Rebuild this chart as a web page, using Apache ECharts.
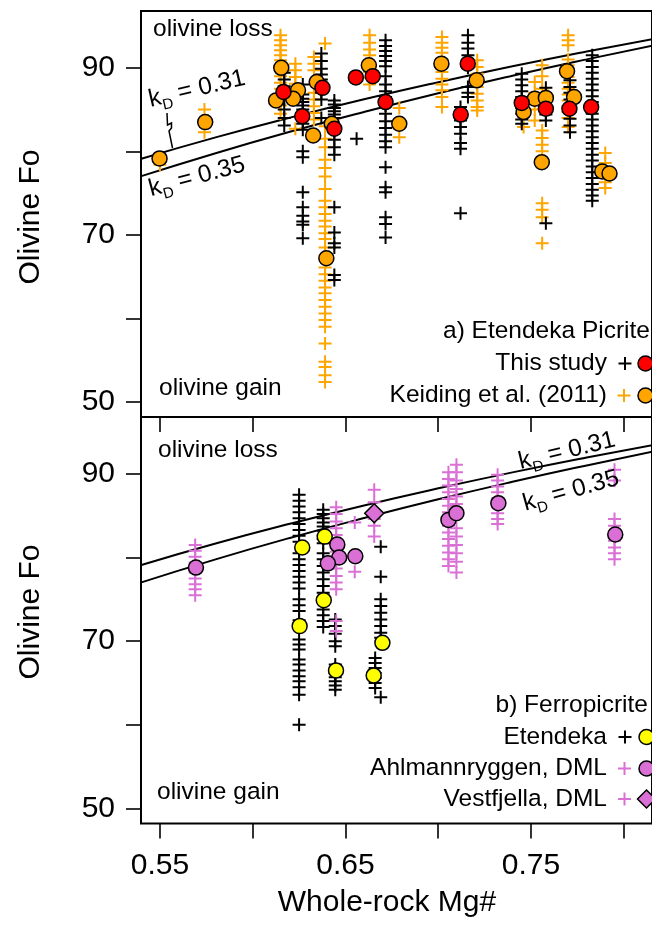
<!DOCTYPE html>
<html><head><meta charset="utf-8">
<script src="https://cdn.jsdelivr.net/npm/echarts@6/dist/echarts.min.js"></script>
<style>html,body{margin:0;padding:0;background:#fff}#c{width:652px;height:925px}</style>
</head><body><div id="c"></div>
<script>
// ---------- data ----------
// kD equilibrium curves
const kdX   = [0.54, 0.58, 0.62, 0.66, 0.70, 0.74, 0.78, 0.82];
const kd031 = [79.11, 81.67, 84.03, 86.23, 88.27, 90.18, 91.96, 93.63];
const kd035 = [77.03, 79.78, 82.34, 84.72, 86.96, 89.05, 91.01, 92.87];

// a) Etendeka Picrite — This study (black +, red circles)
const thisStudyPlusCols = [
  [0.617, [89.4, 88.6, 87.8, 86.2, 85.0, 84.0, 83.1]],
  [0.627, [88.0, 86.8, 86.3, 85.9, 85.5, 85.0, 83.3, 82.6, 80.0, 79.3, 75.1, 73.3, 72.3, 71.6, 71.2, 69.6]],
  [0.637, [91.7, 90.8, 89.9, 89.2, 88.6, 87.0, 86.2, 84.0]],
  [0.644, [86.1, 85.6, 85.2, 84.8, 84.4, 84.0, 83.0, 82.2, 81.4, 80.5, 79.6, 73.3, 70.3, 69.0, 68.5, 65.2, 64.6]],
  [0.656, [81.5]],
  [0.6716, [93.3, 92.6, 92.0, 91.4, 90.8, 90.2, 89.0, 88.0, 87.2, 86.5, 85.5, 84.5, 83.6, 82.8, 82.0, 81.2, 80.5, 78.1, 75.7, 75.1, 72.1, 71.3, 69.7]],
  [0.716, [93.9, 93.0, 92.3, 91.5, 90.8, 90.0, 87.7, 87.0, 86.5]],
  [0.712, [85.3, 84.5, 83.7, 82.9, 82.1, 81.0, 80.3, 72.6]],
  [0.745, [89.3, 88.6, 87.9, 87.2, 86.5, 85.8, 85.2, 84.5, 83.8, 83.3]],
  [0.758, [87.6, 86.8, 86.0, 85.2, 84.4, 83.7, 71.4]],
  [0.771, [88.5, 87.7, 87.0, 86.2, 85.4, 84.7, 83.9, 83.1, 82.3]],
  [0.783, [91.5, 90.8, 90.1, 89.4, 88.7, 88.0, 87.3, 86.6, 85.9, 85.2, 84.5, 83.8, 83.1, 82.4, 81.7, 81.0, 80.3, 79.6, 78.9, 78.2, 77.5, 76.8, 76.1, 75.4, 74.7, 74.1]]
];
const thisStudyMeans = [[0.6166, 87.1], [0.6267, 84.2], [0.6376, 87.6], [0.644, 82.7], [0.6556, 88.85], [0.6647, 89.0], [0.6716, 85.9], [0.7159, 90.5], [0.7121, 84.4], [0.745, 85.8], [0.758, 85.1], [0.7707, 85.1], [0.7824, 85.3]];

// a) Keiding et al. (2011) (orange + and circles)
const keidingPlusCols = [
  [0.55, [78.4]],
  [0.574, [85.0, 82.3]],
  [0.615, [93.9, 93.3, 92.7, 92.1, 91.5, 90.9, 89.0, 88.2, 87.5, 86.5, 85.5, 84.5]],
  [0.623, [90.5, 89.7, 88.9, 88.1, 87.3, 86.7, 82.7]],
  [0.633, [91.3, 90.5, 89.7, 87.0, 86.2, 85.4, 84.6, 83.8]],
  [0.639, [92.9, 83.0, 81.5, 80.5, 79.0, 78.0, 77.0, 75.5, 74.1, 73.3, 72.5, 71.7, 71.0, 70.2, 69.5, 68.5, 67.5, 66.1, 65.3, 64.5, 63.7, 63.0, 62.2, 61.4, 60.6, 59.8, 59.0, 57.0, 54.8, 54.2, 53.2, 52.4]],
  [0.663, [93.9, 93.0, 92.2, 91.5, 89.5, 88.8, 88.0]],
  [0.679, [85.2, 81.7]],
  [0.702, [93.7, 93.0, 92.4, 91.8, 91.0, 89.5, 88.7, 88.0, 87.3, 86.5, 85.3]],
  [0.721, [90.9, 90.1, 89.3, 87.7, 86.9, 86.1, 85.3, 84.9]],
  [0.746, [82.9]],
  [0.752, [88.3, 87.0, 85.0, 83.7]],
  [0.756, [90.3, 89.0, 87.5, 82.5, 81.6, 80.8, 80.0, 73.8, 73.0, 72.1, 69.0]],
  [0.770, [93.9, 93.3, 92.7, 91.0, 90.3, 89.6, 88.9, 88.2, 87.5, 86.8, 86.1, 85.4, 84.7, 84.0, 82.9]],
  [0.790, [79.8, 78.6, 76.3, 75.6]]
];
const keidingMeans = [[0.5498, 79.15], [0.5744, 83.5], [0.6154, 90.0], [0.6126, 86.1], [0.6244, 87.3], [0.6218, 86.3], [0.6326, 81.9], [0.6345, 88.3], [0.6426, 83.3], [0.6397, 67.2], [0.6626, 90.3], [0.679, 83.3], [0.7017, 90.5], [0.7207, 88.5], [0.746, 84.7], [0.752, 86.3], [0.758, 86.4], [0.7558, 78.7], [0.7694, 89.6], [0.7732, 86.5], [0.7884, 77.6], [0.7923, 77.35]];

// b) Ferropicrite — Etendeka (black +, yellow circles)
const etendekaPlusCols = [
  [0.625, [87.5, 86.8, 86.1, 85.4, 84.7, 84.0, 83.3, 82.6, 81.9, 80.5, 79.8, 79.1, 78.4, 77.7, 77.0, 76.3, 75.0, 74.3, 73.6, 72.5, 71.8, 70.2, 69.6, 69.0, 67.8, 67.2, 66.5, 65.8, 65.2, 64.5, 63.6, 60.0]],
  [0.638, [85.7, 85.2, 84.7, 84.2, 83.7, 83.2, 82.7, 82.2, 81.7, 80.5, 79.8, 79.0, 78.2, 77.4, 76.6, 75.8, 73.8, 73.1, 72.4, 71.7]],
  [0.6445, [72.6, 71.8, 70.9, 70.0, 69.4, 67.2, 66.7, 66.2, 65.7, 65.2, 64.7, 64.2]],
  [0.669, [81.3, 77.7, 75.0, 74.2, 73.4, 72.6, 71.8, 71.0, 70.4, 63.3]],
  [0.666, [68.0, 67.4, 66.8, 66.2, 65.6, 65.0, 64.4]]
];
const etendekaMeans = [[0.6267, 81.2], [0.6388, 82.5], [0.6383, 74.9], [0.6253, 71.8], [0.6449, 66.5], [0.6652, 65.9], [0.6699, 69.8]];

// b) Ahlmannryggen, DML (orchid + and circles)
const ahlPlusCols = [
  [0.569, [81.5, 80.8, 80.1, 79.4, 78.2, 77.5, 76.8, 76.2, 75.5]],
  [0.645, [86.0, 85.2, 84.3, 83.5, 82.7, 81.9, 80.7, 79.6, 78.7, 77.8, 77.0, 76.2, 72.4, 71.2]],
  [0.655, [84.2, 78.3]],
  [0.7055, [90.2, 89.4, 88.6, 87.8, 87.0, 86.2, 85.4, 83.8, 83.0, 82.2, 81.4, 80.6, 79.8, 79.0]],
  [0.7098, [91.1, 90.2, 89.2, 88.2, 87.3, 86.4, 85.6, 83.5, 82.5, 81.5, 80.5, 79.5, 78.2]],
  [0.732, [89.9, 89.2, 88.5, 87.8, 87.1, 86.0, 85.3, 84.6, 84.0]],
  [0.795, [90.5, 89.2, 84.6, 83.8, 83.0, 82.0, 81.2, 80.5, 79.8]]
];
const ahlMeans = [[0.5694, 78.8], [0.6456, 81.55], [0.6466, 80.0], [0.6405, 79.3], [0.6553, 80.15], [0.7055, 84.5], [0.7098, 85.3], [0.7324, 86.5], [0.7954, 82.75]];

// b) Vestfjella, DML (orchid + and diamond)
const vestPlusCols = [[0.6655, [88.1, 86.6, 84.6, 83.8, 82.5]]];
const vestMeans = [[0.6655, 85.3]];

// axis ticks / labels
const xTicks = [0.55, 0.60, 0.65, 0.70, 0.75, 0.80];
const xTickLabels = [0.55, 0.65, 0.75];
const yTicks = [50, 60, 70, 80, 90];
const yTickLabels = [50, 70, 90];

// ---------- rendering ----------
const FONT = 'Liberation Sans';
const ORANGE = '#FFA500', RED = '#FF0000', YELLOW = '#FFFF00', ORCHID = '#DA70D6';
const PLUS = 'path://M5.5,0h2v5.5h5.5v2h-5.5v5.5h-2v-5.5h-5.5v-2h5.5z';
const expand = cols => { const o = []; cols.forEach(([x, ys]) => ys.forEach(y => o.push([x, y]))); return o; };

const XMIN = 0.5398, XMAX = 0.8152, YMIN = 48.2, YMAX = 96.8;
const grids = [
  { left: 141, top: 11, width: 529, height: 406, show: true, borderColor: '#000', borderWidth: 2, backgroundColor: 'transparent' },
  { left: 141, top: 417, width: 529, height: 406.5, show: true, borderColor: '#000', borderWidth: 2, backgroundColor: 'transparent' }
];
function xAx(i, labels) {
  return { type: 'value', gridIndex: i, min: XMIN, max: XMAX, position: 'bottom',
    axisLine: { show: false }, splitLine: { show: false },
    axisTick: { show: true, inside: false, length: 15, customValues: xTicks, lineStyle: { color: '#000', width: 1.6 } },
    axisLabel: { show: labels, customValues: xTickLabels, fontSize: 30, fontFamily: FONT, color: '#000', margin: 27 } };
}
function yAx(i) {
  return { type: 'value', gridIndex: i, min: YMIN, max: YMAX,
    axisLine: { show: false }, splitLine: { show: false },
    axisTick: { show: true, inside: false, length: 15, customValues: yTicks, lineStyle: { color: '#000', width: 1.6 } },
    axisLabel: { show: true, customValues: yTickLabels, fontSize: 30, fontFamily: FONT, color: '#000', margin: 26 } };
}
function curve(i, ys) {
  return { type: 'line', xAxisIndex: i, yAxisIndex: i, data: kdX.map((x, k) => [x, ys[k]]), smooth: true,
    showSymbol: false, silent: true, lineStyle: { color: '#000', width: 2 }, z: 1 };
}
function plus(i, data, color) {
  return { type: 'scatter', xAxisIndex: i, yAxisIndex: i, data, symbol: PLUS, symbolSize: 13, silent: true,
    itemStyle: { color, opacity: 1 }, z: 2 };
}
function mean(i, data, color, symbol, size) {
  return { type: 'scatter', xAxisIndex: i, yAxisIndex: i, data, symbol: symbol || 'circle', symbolSize: size || 15, silent: true,
    itemStyle: { color, borderColor: '#000', borderWidth: 1.5, opacity: 1 }, z: 3 };
}

const txtStyle = (text, size, align) => ({ text, fill: '#000', fontSize: size, fontFamily: FONT, align: align || 'left', verticalAlign: 'middle' });
function txt(x, y, text, size, align, rot) {
  return { type: 'text', x, y, rotation: rot || 0, z: 100, style: txtStyle(text, size, align) };
}
function kdLabel(x, y, val, deg) {
  return { type: 'text', x, y, rotation: deg * Math.PI / 180, z: 100,
    style: { text: '{k|k}{d|D}{k| = ' + val + '}', align: 'center', verticalAlign: 'middle', fill: '#000',
      rich: { k: { fontSize: 24.5, fontFamily: FONT, lineHeight: 32, fill: '#000' },
              d: { fontSize: 15, fontFamily: FONT, lineHeight: 15, verticalAlign: 'bottom', fill: '#000' } } } };
}
function plusG(cx, cy, color) {
  return [
    { type: 'line', z: 100, shape: { x1: cx - 6.5, y1: cy, x2: cx + 6.5, y2: cy }, style: { stroke: color, lineWidth: 2 } },
    { type: 'line', z: 100, shape: { x1: cx, y1: cy - 6.5, x2: cx, y2: cy + 6.5 }, style: { stroke: color, lineWidth: 2 } }
  ];
}
const circleG = (cx, cy, fill) => ({ type: 'circle', z: 100, shape: { cx, cy, r: 7.5 }, style: { fill, stroke: '#000', lineWidth: 1.5 } });
const diamondG = (cx, cy, fill) => ({ type: 'polygon', z: 100, shape: { points: [[cx, cy - 9], [cx + 9, cy], [cx, cy + 9], [cx - 9, cy]] }, style: { fill, stroke: '#000', lineWidth: 1.5 } });

const graphic = [
  txt(31, 217, 'Olivine Fo', 30, 'center', Math.PI / 2),
  txt(31, 612, 'Olivine Fo', 30, 'center', Math.PI / 2),
  txt(387, 903, 'Whole-rock Mg#', 30, 'center'),
  txt(153, 29, 'olivine loss', 24.5),
  txt(159, 388.5, 'olivine gain', 24.5),
  txt(158, 450, 'olivine loss', 24.5),
  txt(157, 792, 'olivine gain', 24.5),
  kdLabel(197, 89, '0.31', 13),
  kdLabel(197, 177, '0.35', 15),
  kdLabel(567, 451, '0.31', 13.5),
  kdLabel(571, 491, '0.35', 15.5),
  { type: 'polyline', z: 100, shape: { points: [[167, 113], [167.5, 125], [171.5, 123], [171.5, 128], [169, 131], [172.5, 148]] }, style: { stroke: '#000', lineWidth: 1.5, fill: null } },
  txt(650, 331, 'a) Etendeka Picrite', 24.5, 'right'),
  txt(607, 363.5, 'This study', 24.5, 'right'),
  txt(607, 395.5, 'Keiding et al. (2011)', 24.5, 'right'),
  ...plusG(625, 363.5, '#000'), circleG(645.5, 363.5, RED),
  ...plusG(624, 395.5, ORANGE), circleG(645.5, 395.5, ORANGE),
  txt(648, 705, 'b) Ferropicrite', 24.5, 'right'),
  txt(607, 737, 'Etendeka', 24.5, 'right'),
  txt(607, 768.5, 'Ahlmannryggen, DML', 24.5, 'right'),
  txt(607, 799, 'Vestfjella, DML', 24.5, 'right'),
  ...plusG(625, 737, '#000'), circleG(646.5, 737, YELLOW),
  ...plusG(624.5, 768.5, ORCHID), circleG(646.5, 768.5, ORCHID),
  ...plusG(624.5, 799, ORCHID), diamondG(646.5, 799, ORCHID)
];

const chart = echarts.init(document.getElementById('c'), null, { renderer: 'canvas', width: 652, height: 925 });
chart.setOption({
  animation: false,
  backgroundColor: '#fff',
  grid: grids,
  xAxis: [xAx(0, false), xAx(1, true)],
  yAxis: [yAx(0), yAx(1)],
  series: [
    curve(0, kd031), curve(0, kd035), curve(1, kd031), curve(1, kd035),
    plus(0, expand(keidingPlusCols), ORANGE),
    plus(0, expand(thisStudyPlusCols), '#000'),
    mean(0, keidingMeans, ORANGE),
    mean(0, thisStudyMeans, RED),
    plus(1, expand(etendekaPlusCols), '#000'),
    plus(1, expand(ahlPlusCols), ORCHID),
    plus(1, expand(vestPlusCols), ORCHID),
    mean(1, etendekaMeans, YELLOW),
    mean(1, ahlMeans, ORCHID),
    mean(1, vestMeans, ORCHID, 'diamond', 19)
  ],
  graphic
});
</script></body></html>
